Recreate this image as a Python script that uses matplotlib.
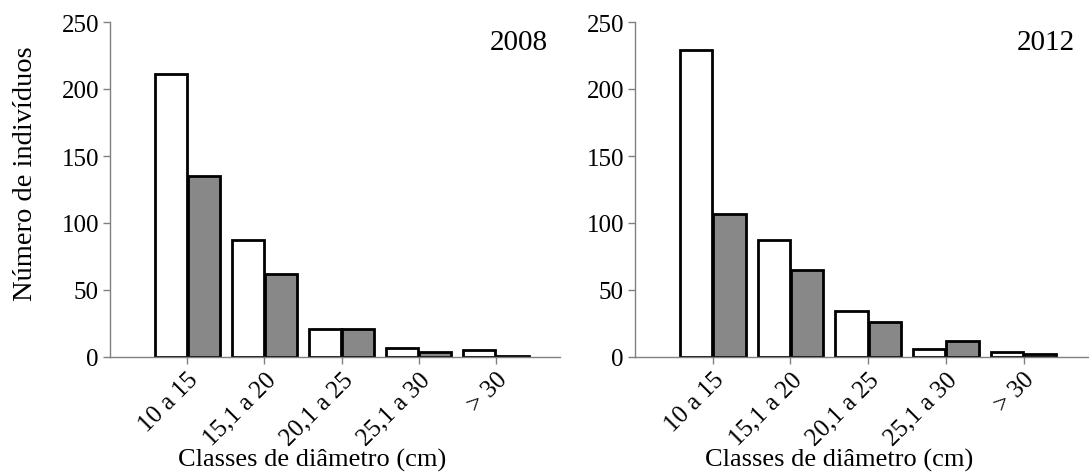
import numpy as np
import matplotlib
matplotlib.use("Agg")
import matplotlib.pyplot as plt

plt.rcParams["font.family"] = ["Liberation Serif", "DejaVu Serif"]

classes = ["10 a 15", "15,1 a 20", "20,1 a 25", "25,1 a 30", "> 30"]
years = ["2008", "2012"]
white_2008 = [211, 87, 21, 7, 5]
grey_2008 = [135, 62, 21, 4, 1]
white_2012 = [229, 87, 34, 6, 4]
grey_2012 = [107, 65, 26, 12, 2]
yticks = [0, 50, 100, 150, 200, 250]

fig = plt.figure(figsize=(10.89, 4.77), dpi=100)
W, H = 1089, 477
ax1 = fig.add_axes([110 / W, 119 / H, 450 / W, 335 / H])
ax2 = fig.add_axes([635 / W, 119 / H, 453 / W, 335 / H])

x = np.arange(len(classes))
bw = 0.415
off = 0.215
spine_col = "#808080"

for ax, wv, gv, yr in [(ax1, white_2008, grey_2008, years[0]),
                       (ax2, white_2012, grey_2012, years[1])]:
    ax.bar(x - off, wv, width=bw, color="white", edgecolor="black", linewidth=2)
    ax.bar(x + off, gv, width=bw, color="#888888", edgecolor="black", linewidth=2)
    ax.set_ylim(0, 250)
    ax.set_xlim(-1.0, 4.83)
    ax.set_yticks(yticks)
    ax.set_xticks(x)
    ax.set_xticklabels(classes, rotation=45, ha="right", va="top",
                       rotation_mode="anchor")
    ax.tick_params(axis="both", labelsize=18, color=spine_col, length=5,
                   width=1, direction="out")
    ax.tick_params(axis="x", pad=3)
    ax.tick_params(axis="y", pad=3)
    for s in ["top", "right"]:
        ax.spines[s].set_visible(False)
    for s in ["left", "bottom"]:
        ax.spines[s].set_color(spine_col)
        ax.spines[s].set_linewidth(1)
    ax.set_xlabel("Classes de diâmetro (cm)", fontsize=19)
    ax.xaxis.set_label_coords(0.45, -0.272)
    ax.text(0.972, 0.94, yr, transform=ax.transAxes, ha="right", va="center",
            fontsize=21)

ax1.set_ylabel("Número de indivíduos", fontsize=20.5)
ax1.yaxis.set_label_coords(-0.16, 0.55)

fig.savefig("out.png", dpi=100)
